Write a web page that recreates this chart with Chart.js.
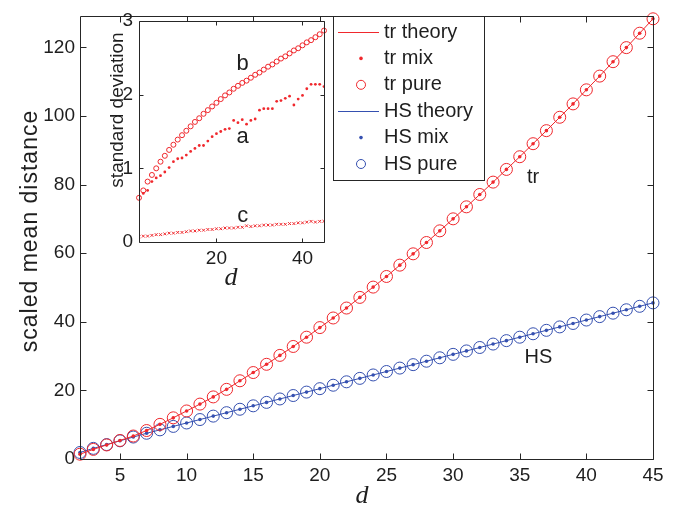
<!DOCTYPE html>
<html>
<head>
<meta charset="utf-8">
<script src="https://cdn.jsdelivr.net/npm/chart.js@4.4.1/dist/chart.umd.min.js"></script>
<style>
  html, body { margin: 0; padding: 0; background: #fff; }
  #wrap { position: relative; width: 689px; height: 511px; }
  #main { position: absolute; left: 0; top: 0; width: 689px; height: 511px; }
  #inset { position: absolute; left: 85px; top: 0; width: 250px; height: 295px; }
</style>
</head>
<body>
<div id="wrap">
  <canvas id="main" width="689" height="511"></canvas>
  <canvas id="inset" width="250" height="295"></canvas>
</div>
<script>
// dimension d, shared by every series
const dims = [2, 3, 4, 5, 6, 7, 8, 9, 10, 11, 12, 13, 14, 15, 16, 17, 18, 19, 20, 21, 22, 23,
  24, 25, 26, 27, 28, 29, 30, 31, 32, 33, 34, 35, 36, 37, 38, 39, 40, 41, 42, 43, 44, 45];

// main plot: scaled mean distance
const trTheory = [1.4, 2.8, 4.1, 5.4, 6.7, 8.3, 10.1, 12.0, 14.0, 16.0, 18.1, 20.3, 22.8, 25.2,
  27.6, 30.2, 32.8, 35.5, 38.3, 41.1, 44.0, 47.1, 50.1, 53.2, 56.5, 59.8, 63.1, 66.5, 70.0, 73.5,
  77.1, 80.7, 84.4, 88.1, 91.9, 95.7, 99.6, 103.5, 107.6, 111.6, 115.8, 119.9, 124.1, 128.3];
const trMix = trTheory;
const trPure = trTheory;
const hsTheory = [1.9, 3.1, 4.2, 5.3, 6.4, 7.5, 8.5, 9.5, 10.5, 11.5, 12.5, 13.5, 14.5, 15.5,
  16.5, 17.5, 18.5, 19.5, 20.5, 21.5, 22.5, 23.5, 24.5, 25.5, 26.5, 27.5, 28.5, 29.5, 30.5, 31.5,
  32.5, 33.5, 34.5, 35.5, 36.5, 37.5, 38.5, 39.5, 40.5, 41.5, 42.5, 43.5, 44.5, 45.5];
const hsMix = hsTheory;
const hsPure = hsTheory;

// inset: standard deviation
const sdMix = [0.62, 0.66, 0.70, 0.82, 0.87, 0.90, 0.95, 1.01, 1.09, 1.13, 1.14, 1.18, 1.23, 1.27,
  1.31, 1.31, 1.37, 1.43, 1.47, 1.50, 1.53, 1.54, 1.65, 1.62, 1.66, 1.60, 1.65, 1.67, 1.79, 1.81,
  1.81, 1.81, 1.91, 1.92, 1.95, 1.98, 1.86, 1.94, 1.99, 2.08, 2.14, 2.14, 2.14, 2.11];
const sdPure = [0.60, 0.70, 0.82, 0.91, 1.00, 1.09, 1.17, 1.25, 1.32, 1.39, 1.45, 1.51, 1.57, 1.63,
  1.68, 1.74, 1.79, 1.84, 1.89, 1.94, 1.99, 2.03, 2.08, 2.12, 2.16, 2.19, 2.23, 2.27, 2.30, 2.34,
  2.38, 2.41, 2.45, 2.49, 2.52, 2.56, 2.60, 2.63, 2.67, 2.71, 2.74, 2.78, 2.82, 2.87];
const sdLow = [0.07, 0.08, 0.08, 0.09, 0.10, 0.10, 0.11, 0.12, 0.12, 0.13, 0.13, 0.14, 0.15, 0.15,
  0.16, 0.16, 0.17, 0.17, 0.18, 0.18, 0.19, 0.19, 0.19, 0.20, 0.20, 0.22, 0.21, 0.22, 0.22, 0.23,
  0.23, 0.23, 0.24, 0.24, 0.24, 0.25, 0.25, 0.26, 0.26, 0.27, 0.28, 0.27, 0.28, 0.28];

const xTicks = [5, 10, 15, 20, 25, 30, 35, 40, 45];
const yTicks = [0, 20, 40, 60, 80, 100, 120];
const insetXTicks = [20, 40];
const insetYTicks = [0, 1, 2, 3];

const RED = "#f0282d";
const BLUE = "#3550b0";
const AXIS = "#262626";
const TEXT = "#1e1e1e";
const FONT = "'Liberation Sans', Arial, Helvetica, sans-serif";
const SERIF = "'Liberation Serif', 'Times New Roman', serif";
const CLEAR = "rgba(0,0,0,0)";

const pts = (ys) => dims.map((d, i) => ({ x: d, y: ys[i] }));
const fixTicks = (list) => (scale) => {
  scale.ticks = list.map((value) => ({ value }));
};

// MATLAB style box with inward ticks on all four sides
const frame = {
  id: "frame",
  beforeDatasetsDraw(chart) {
    const { ctx, chartArea: a } = chart;
    ctx.save();
    ctx.fillStyle = "#fff";
    ctx.fillRect(a.left, a.top, a.right - a.left, a.bottom - a.top);
    ctx.restore();
  },
  afterDraw(chart, args, opts) {
    const { ctx, chartArea: a, scales } = chart;
    const len = opts.tick || 5;
    const l = Math.round(a.left) + 0.5;
    const r = Math.round(a.right) + 0.5;
    const t = Math.round(a.top) + 0.5;
    const b = Math.round(a.bottom) + 0.5;
    ctx.save();
    ctx.strokeStyle = AXIS;
    ctx.lineWidth = 1;
    ctx.beginPath();
    ctx.rect(l, t, r - l, b - t);
    scales.x.ticks.forEach((tk) => {
      const px = Math.round(scales.x.getPixelForValue(tk.value)) + 0.5;
      ctx.moveTo(px, b);
      ctx.lineTo(px, b - len);
      ctx.moveTo(px, t);
      ctx.lineTo(px, t + len);
    });
    scales.y.ticks.forEach((tk) => {
      const py = Math.round(scales.y.getPixelForValue(tk.value)) + 0.5;
      ctx.moveTo(l, py);
      ctx.lineTo(l + len, py);
      ctx.moveTo(r, py);
      ctx.lineTo(r - len, py);
    });
    ctx.stroke();
    ctx.restore();
  },
};

// axis titles and curve labels
const notes = {
  id: "notes",
  afterDraw(chart, args, opts) {
    const { ctx, scales } = chart;
    ctx.save();
    ctx.fillStyle = TEXT;
    ctx.textAlign = "center";
    ctx.textBaseline = "middle";
    (opts.items || []).forEach((it) => {
      const px = it.dx !== undefined ? scales.x.getPixelForValue(it.dx) : it.px;
      const py = it.dy !== undefined ? scales.y.getPixelForValue(it.dy) : it.py;
      ctx.font = it.font;
      ctx.letterSpacing = it.spacing || "0px";
      ctx.save();
      ctx.translate(px, py);
      if (it.rotate) ctx.rotate(it.rotate);
      ctx.fillText(it.text, 0, 0);
      ctx.restore();
    });
    ctx.restore();
  },
};

// legend box in the top middle of the main plot
const legendBox = {
  id: "legendBox",
  afterDraw(chart) {
    const { ctx } = chart;
    const left = 333, top = 16, right = 484, bottom = 180;
    ctx.save();
    ctx.fillStyle = "#fff";
    ctx.fillRect(left, top, right - left, bottom - top);
    ctx.strokeStyle = AXIS;
    ctx.lineWidth = 1;
    ctx.strokeRect(left + 0.5, top + 0.5, right - left, bottom - top);
    ctx.font = `20px ${FONT}`;
    ctx.textBaseline = "middle";
    chart.data.datasets.forEach((ds, i) => {
      const y = 32 + i * 26.4;
      const color = ds.showLine || ds.pointRadius > 3 ? ds.borderColor : ds.backgroundColor;
      if (ds.showLine) {
        ctx.strokeStyle = color;
        ctx.beginPath();
        ctx.moveTo(338, Math.round(y) + 0.5);
        ctx.lineTo(379, Math.round(y) + 0.5);
        ctx.stroke();
      } else if (ds.pointRadius > 3) {
        ctx.strokeStyle = color;
        ctx.beginPath();
        ctx.arc(361, y, 4.5, 0, Math.PI * 2);
        ctx.stroke();
      } else {
        ctx.fillStyle = color;
        ctx.beginPath();
        ctx.arc(361, y, 1.8, 0, Math.PI * 2);
        ctx.fill();
      }
      ctx.fillStyle = TEXT;
      ctx.fillText(ds.label, 384, y);
    });
    ctx.restore();
  },
};

const tickFont = { family: FONT, size: 19 };

new Chart(document.getElementById("main"), {
  type: "scatter",
  data: {
    datasets: [
      { label: "tr theory", data: pts(trTheory), showLine: true, borderColor: RED, borderWidth: 1, pointRadius: 0, clip: false },
      { label: "tr mix", data: pts(trMix), pointRadius: 1.8, backgroundColor: RED, borderColor: RED, borderWidth: 0, clip: false },
      { label: "tr pure", data: pts(trPure), pointRadius: 6, borderColor: RED, backgroundColor: CLEAR, borderWidth: 1, clip: false },
      { label: "HS theory", data: pts(hsTheory), showLine: true, borderColor: BLUE, borderWidth: 1, pointRadius: 0, clip: false },
      { label: "HS mix", data: pts(hsMix), pointRadius: 1.8, backgroundColor: BLUE, borderColor: BLUE, borderWidth: 0, clip: false },
      { label: "HS pure", data: pts(hsPure), pointRadius: 6, borderColor: BLUE, backgroundColor: CLEAR, borderWidth: 1, clip: false },
    ],
  },
  options: {
    responsive: false,
    animation: false,
    events: [],
    layout: { padding: { left: 0, top: 6, right: 36, bottom: 0 } },
    scales: {
      x: {
        type: "linear",
        min: 2,
        max: 45,
        afterBuildTicks: fixTicks(xTicks),
        afterFit: (s) => { s.height = 52; },
        grid: { display: false, drawTicks: false },
        border: { display: false },
        ticks: { font: tickFont, color: TEXT, padding: 5, maxRotation: 0, autoSkip: false },
      },
      y: {
        type: "linear",
        min: 0,
        max: 129,
        afterBuildTicks: fixTicks(yTicks),
        afterFit: (s) => { s.width = 80; },
        grid: { display: false, drawTicks: false },
        border: { display: false },
        ticks: { font: tickFont, color: TEXT, padding: 5, autoSkip: false },
      },
    },
    plugins: {
      legend: { display: false },
      tooltip: { enabled: false },
      frame: { tick: 6 },
      notes: {
        items: [
          { text: "scaled mean distance", px: 31, py: 231, rotate: -Math.PI / 2, font: `23px ${FONT}`, spacing: "1px" },
          { text: "d", px: 362, py: 496, font: `italic 26px ${SERIF}` },
          { text: "tr", dx: 36, dy: 82, font: `20px ${FONT}` },
          { text: "HS", dx: 36.4, dy: 29.7, font: `20px ${FONT}` },
        ],
      },
    },
  },
  plugins: [frame, notes, legendBox],
});

new Chart(document.getElementById("inset"), {
  type: "scatter",
  data: {
    datasets: [
      { label: "a", data: pts(sdMix), pointRadius: 1.4, backgroundColor: RED, borderColor: RED, borderWidth: 0 },
      { label: "b", data: pts(sdPure), pointRadius: 2.5, borderColor: RED, backgroundColor: CLEAR, borderWidth: 1, clip: false },
      { label: "c", data: pts(sdLow), pointStyle: "crossRot", pointRadius: 2, borderColor: RED, borderWidth: 1 },
    ],
  },
  options: {
    responsive: false,
    animation: false,
    events: [],
    layout: { padding: { left: 0, top: 21, right: 11, bottom: 0 } },
    scales: {
      x: {
        type: "linear",
        min: 2,
        max: 45,
        afterBuildTicks: fixTicks(insetXTicks),
        afterFit: (s) => { s.height = 53; },
        grid: { display: false, drawTicks: false },
        border: { display: false },
        ticks: { font: tickFont, color: TEXT, padding: 5, maxRotation: 0, autoSkip: false },
      },
      y: {
        type: "linear",
        min: 0,
        max: 3,
        afterBuildTicks: fixTicks(insetYTicks),
        afterFit: (s) => { s.width = 54; },
        grid: { display: false, drawTicks: false },
        border: { display: false },
        ticks: { font: tickFont, color: TEXT, padding: 6, autoSkip: false },
      },
    },
    plugins: {
      legend: { display: false },
      tooltip: { enabled: false },
      frame: { tick: 4 },
      notes: {
        items: [
          { text: "standard deviation", px: 33, py: 110, rotate: -Math.PI / 2, font: `19px ${FONT}` },
          { text: "d", px: 146, py: 278, font: `italic 26px ${SERIF}` },
          { text: "b", dx: 26.1, dy: 2.42, font: `22px ${FONT}` },
          { text: "a", dx: 26.1, dy: 1.42, font: `22px ${FONT}` },
          { text: "c", dx: 26.1, dy: 0.36, font: `22px ${FONT}` },
        ],
      },
    },
  },
  plugins: [frame, notes],
});
</script>
</body>
</html>
